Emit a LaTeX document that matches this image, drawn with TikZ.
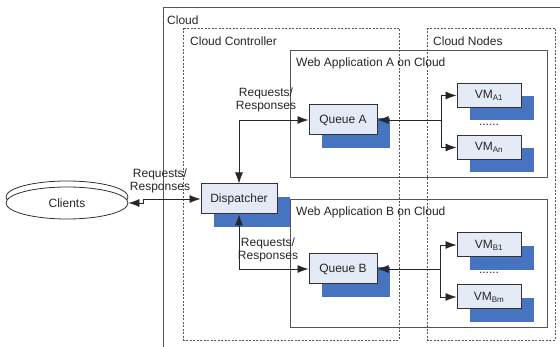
\documentclass[tikz,border=0pt]{standalone}
\usepackage{fontspec}
\setmainfont{Liberation Sans}
\usetikzlibrary{arrows.meta,positioning,shapes.geometric,shadows}
\definecolor{boxfill}{HTML}{E4EAF6}
\definecolor{shadowblue}{HTML}{4674C0}
\definecolor{framegray}{HTML}{555555}

\begin{document}
\begin{tikzpicture}[x=1pt, y=-1pt, >={Latex[length=11pt,width=8pt]},
  font=\fontsize{12}{13.5}\selectfont, text=black!85,
  frame/.style={draw=framegray, line width=0.8pt},
  dashframe/.style={draw=framegray, line width=0.8pt, dash pattern=on 2pt off 1.5pt},
  framelabel/.style={anchor=west, inner sep=0pt},
  unit/.style={draw=black!80, line width=1pt, fill=boxfill, inner sep=0pt,
    drop shadow={shadow xshift=13pt, shadow yshift=-13pt, fill=shadowblue, opacity=1}},
  queue/.style={unit, minimum width=68pt, minimum height=30pt},
  vm/.style={unit, minimum width=64pt, minimum height=24pt},
  client/.style={ellipse, draw=black!80, line width=0.8pt, fill=white,
    minimum width=122pt, minimum height=32pt},
  link/.style={line width=0.8pt, black!85},
  reqlabel/.style={align=center, inner sep=0pt},
  node distance=52pt]
    \useasboundingbox (0,0) rectangle (560,347);
    \clip (0,0) rectangle (560,347);

    % cloud with controller and nodes
    \draw[frame] (163,7) rectangle (580,370);
    \node[framelabel] (cloudlbl) at (167,20) {Cloud};
    \draw[dashframe] (183,28) rectangle (399,340);
    \node[framelabel] (ctrllbl) at (190,41) {Cloud Controller};
    \draw[dashframe] (427,28) rectangle (555,340);
    \node[framelabel] (nodeslbl) at (433,41) {Cloud Nodes};

    % the two web applications
    \draw[frame] (290,50) rectangle (547,177);
    \node[framelabel] (applbla) at (296,63) {Web Application A on Cloud};
    \draw[frame] (290,199) rectangle (547,327);
    \node[framelabel] (applblb) at (296,212) {Web Application B on Cloud};

    % clients
    \node[client] (clientsback) at (67,197) {};
    \node[client] (clients) at (67,203) {Clients};

    \node[queue, minimum width=76pt] (disp) at (239,199) {Dispatcher};
    \node[queue] (qa) at (343,120) {Queue A};
    \node[queue] (qb) at (343,269) {Queue B};

    \node[vm] (vma1) at (489,95.5) {VM\textsubscript{A1}};
    \node[vm, below of=vma1] (vman) {VM\textsubscript{An}};
    \node[below of=vma1, node distance=29pt] (dotsa) {......};
    \node[vm] (vmb1) at (489,245) {VM\textsubscript{B1}};
    \node[vm, below of=vmb1] (vmbm) {VM\textsubscript{Bm}};
    \node[below of=vmb1, node distance=28pt] (dotsb) {......};

    \coordinate (forka) at (441,120);
    \coordinate (forkb) at (440,269);

    \draw[link, <->] (clients.east) -- ++(15,0) |- (disp.west);
    \draw[link, <->] (disp.north) |- (qa.west);
    \draw[link, <->] (disp.south) |- (qb.west);
    \draw[link, <-] (qa.east) -- (forka);
    \draw[link, ->] (forka) |- (vma1.west);
    \draw[link, ->] (forka) |- (vman.west);
    \draw[link, <-] (qb.east) -- (forkb);
    \draw[link, ->] (forkb) |- (vmb1.west);
    \draw[link, ->] (forkb) |- (vmbm.west);

    \node[reqlabel] (reqc) at (160,181) {Requests/\\Responses};
    \node[reqlabel] (reqa) at (266,100) {Requests/\\Responses};
    \node[reqlabel] (reqb) at (268,250) {Requests/\\Responses};
\end{tikzpicture}
\end{document}
